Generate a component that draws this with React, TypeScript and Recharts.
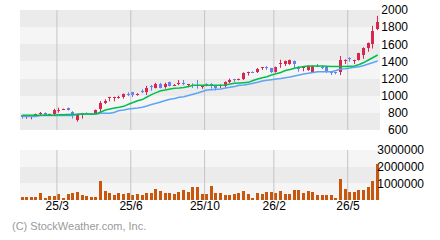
import { Bar, BarChart, CartesianGrid, ComposedChart, Line, ReferenceLine, XAxis, YAxis } from "recharts";

// weekly candles, oldest first (78 bars)
const OPEN = [
  772, 760, 760, 760, 792, 802, 780, 784, 828, 843, 857, 810, 717, 771, 800, 785, 787, 848, 915, 982,
  983, 980, 990, 1020, 1043, 1010, 1060, 1040, 1118, 1090, 1140, 1105, 1156, 1120, 1145, 1150, 1130, 1128, 1130, 1105,
  1135, 1135, 1113, 1120, 1113, 1160, 1195, 1195, 1200, 1270, 1280, 1277, 1325, 1340, 1320, 1277, 1370, 1367, 1367, 1408,
  1340, 1330, 1300, 1280, 1350, 1340, 1335, 1275, 1275, 1280, 1415, 1440, 1410, 1415, 1475, 1557, 1605, 1775,
];
const HIGH = [
  775, 770, 775, 790, 810, 805, 790, 848, 860, 850, 862, 820, 783, 800, 805, 795, 838, 938, 958, 987,
  988, 1000, 1025, 1040, 1045, 1030, 1075, 1115, 1125, 1150, 1150, 1152, 1165, 1135, 1183, 1183, 1138, 1145, 1183, 1112,
  1145, 1145, 1115, 1130, 1168, 1200, 1197, 1202, 1273, 1280, 1285, 1323, 1332, 1345, 1325, 1340, 1420, 1410, 1420, 1410,
  1345, 1338, 1352, 1355, 1370, 1350, 1340, 1278, 1278, 1463, 1425, 1450, 1420, 1500, 1565, 1620, 1815, 1932,
];
const LOW = [
  733, 732, 725, 755, 771, 768, 775, 771, 802, 835, 828, 733, 697, 733, 790, 780, 785, 795, 903, 935,
  935, 965, 965, 995, 985, 1000, 1030, 1008, 1058, 1085, 1085, 1082, 1108, 1115, 1122, 1122, 1098, 1090, 1082, 1080,
  1110, 1082, 1060, 1090, 1098, 1148, 1160, 1180, 1183, 1235, 1270, 1265, 1300, 1300, 1265, 1270, 1325, 1347, 1360, 1320,
  1280, 1285, 1290, 1275, 1335, 1310, 1265, 1240, 1250, 1240, 1370, 1397, 1370, 1410, 1430, 1513, 1550, 1765,
];
const CLOSE = [
  749, 767, 771, 787, 797, 771, 785, 837, 835, 847, 833, 767, 771, 795, 795, 790, 833, 911, 942, 985,
  986, 988, 1020, 1015, 1005, 1018, 1055, 1090, 1110, 1140, 1090, 1140, 1113, 1128, 1150, 1145, 1135, 1122, 1122, 1110,
  1130, 1130, 1090, 1126, 1160, 1183, 1190, 1200, 1265, 1277, 1275, 1312, 1330, 1335, 1277, 1335, 1378, 1402, 1413, 1370,
  1310, 1335, 1347, 1350, 1345, 1335, 1273, 1270, 1270, 1417, 1420, 1430, 1417, 1495, 1557, 1615, 1757, 1865,
];
// volume in thousands of shares
const VOLUME = [
  180, 180, 180, 180, 420, 120, 240, 240, 360, 120, 360, 420, 480, 300, 240, 180, 180, 1140, 540, 420,
  300, 420, 360, 420, 300, 360, 300, 420, 420, 660, 540, 420, 420, 360, 480, 600, 480, 780, 780, 360,
  360, 840, 420, 420, 300, 300, 360, 420, 540, 360, 120, 420, 360, 480, 480, 420, 540, 360, 360, 600,
  600, 420, 540, 480, 300, 300, 300, 300, 120, 1260, 660, 480, 480, 600, 600, 780, 1140, 2160,
];
// moving averages (short = green, long = blue)
const MA_SHORT = [
  772, 772, 772, 772, 772, 772, 772, 772, 778, 779, 780, 780, 781, 787, 787, 787, 787, 810, 833, 845,
  857, 865, 876, 900, 921, 941, 955, 985, 1012, 1036, 1057, 1067, 1078, 1087, 1090, 1096, 1108, 1122, 1122, 1122,
  1122, 1122, 1122, 1122, 1125, 1137, 1145, 1148, 1152, 1156, 1177, 1195, 1209, 1222, 1242, 1256, 1271, 1294, 1306, 1320,
  1332, 1341, 1347, 1347, 1347, 1347, 1345, 1342, 1340, 1340, 1342, 1345, 1347, 1364, 1387, 1417, 1446, 1475,
];
const MA_LONG = [
  758, 758, 758, 758, 769, 769, 769, 769, 769, 769, 769, 769, 787, 787, 787, 787, 787, 795, 795, 795,
  807, 828, 833, 845, 851, 857, 865, 880, 897, 911, 927, 944, 958, 967, 981, 989, 1003, 1017, 1032, 1049,
  1067, 1071, 1075, 1078, 1090, 1098, 1108, 1122, 1125, 1133, 1145, 1156, 1172, 1180, 1187, 1195, 1201, 1210, 1218, 1230,
  1242, 1253, 1262, 1271, 1280, 1280, 1280, 1280, 1294, 1312, 1315, 1323, 1332, 1339, 1352, 1370, 1387, 1405,
];

const TICK_IDX = [8, 24, 40, 55, 71];
const TICK_TEXT = ["25/3", "25/6", "25/10", "26/2", "26/5"];
const PRICE_TICKS = [600, 800, 1000, 1200, 1400, 1600, 1800, 2000];
const VOL_TICKS = [1000000, 2000000, 3000000];

const UP = "#d8264e";
const DOWN = "#6a7ef0";
const GREEN = "#00c04a";
const SKY = "#5aa5f5";
const VOL = "#c8560c";
const DARK = "#ebebeb";
const LIGHT = "#f5f5f5";
const GRID = "#c4c4c4";
const FONT = "'Liberation Sans Narrow', 'Arial Narrow', 'Liberation Sans', Arial, sans-serif";

const data = CLOSE.map((c, i) => ({
  i,
  o: OPEN[i],
  h: HIGH[i],
  l: LOW[i],
  c,
  v: VOLUME[i] * 1000,
  ma1: MA_SHORT[i],
  ma2: MA_LONG[i],
}));

// pixel column for a bar, snapped so the 3px mark sits on whole pixels
const snap = (x: number, width: number) => Math.round(x + width / 2 - 1);

function Candle(props: any) {
  const { x, y, width, height, payload } = props;
  if (!payload) return null;
  const { o, h, l, c } = payload;
  const color = c >= o ? UP : DOWN;
  const top = Math.min(y, y + height);
  const span = Math.abs(height);
  const k = span / (h - l || 1);
  const bodyTop = top + (h - Math.max(o, c)) * k;
  const bodyH = Math.max(1, Math.abs(c - o) * k);
  const cx = snap(x, width);
  return (
    <g>
      <line x1={cx + 0.5} x2={cx + 0.5} y1={top} y2={top + span} stroke={color} strokeWidth={1} />
      <rect x={cx - 1} y={bodyTop} width={3} height={bodyH} fill={color} shapeRendering="crispEdges" />
    </g>
  );
}

function VolBar(props: any) {
  const { x, y, width, height } = props;
  const top = Math.min(y, y + height);
  return (
    <rect
      x={snap(x, width) - 1}
      y={top}
      width={3}
      height={Math.abs(height)}
      fill={VOL}
      shapeRendering="crispEdges"
    />
  );
}

function PriceTick(props: any) {
  const { x, y, payload } = props;
  return (
    <text x={x + 28} y={y} dy="0.36em" textAnchor="end" fontSize={12} fontFamily={FONT} fill="#000">
      {payload.value}
    </text>
  );
}

function VolTick(props: any) {
  const { x, y, payload } = props;
  return (
    <text x={x + 44} y={y} dy="0.36em" textAnchor="end" fontSize={12} fontFamily={FONT} fill="#000">
      {payload.value}
    </text>
  );
}

function DateTick(props: any) {
  const { x, y, payload } = props;
  const k = TICK_IDX.indexOf(payload.value);
  if (k < 0) return null;
  return (
    <text x={x - 2} y={y + 6} dy="0.36em" textAnchor="middle" fontSize={12} fontFamily={FONT} fill="#000">
      {TICK_TEXT[k]}
    </text>
  );
}

export default function App() {
  return (
    <div style={{ position: "absolute", left: 0, top: 0, width: 440, height: 240, background: "#fff" }}>
      <div style={{ position: "absolute", left: 0, top: 0 }}>
        <ComposedChart width={440} height={140} data={data} margin={{ top: 10, right: 0, bottom: 10, left: 20 }}>
          <CartesianGrid vertical={false} stroke="none" horizontalFill={[DARK, LIGHT]} />
          <XAxis dataKey="i" type="category" hide />
          <YAxis
            orientation="right"
            width={60}
            domain={[600, 2000]}
            ticks={PRICE_TICKS}
            interval={0}
            axisLine={false}
            tickLine={false}
            tickSize={0}
            tickMargin={0}
            tick={<PriceTick />}
          />
          {TICK_IDX.map((t) => (
            <ReferenceLine key={t} x={t} position="start" stroke={GRID} />
          ))}
          <Line dataKey="ma2" stroke={SKY} strokeWidth={1.5} dot={false} isAnimationActive={false} />
          <Line dataKey="ma1" stroke={GREEN} strokeWidth={1.5} dot={false} isAnimationActive={false} />
          <Bar dataKey={(d: any) => [d.l, d.h]} barSize={3} shape={<Candle />} isAnimationActive={false} />
        </ComposedChart>
      </div>
      <div style={{ position: "absolute", left: 0, top: 140 }}>
        <BarChart width={440} height={100} data={data} margin={{ top: 10, right: 0, bottom: 0, left: 20 }}>
          <CartesianGrid vertical={false} stroke="none" horizontalFill={[LIGHT, DARK]} />
          <XAxis
            dataKey="i"
            type="category"
            height={40}
            interval={0}
            axisLine={false}
            tickLine={false}
            tickSize={0}
            tickMargin={0}
            tick={<DateTick />}
          />
          <YAxis
            orientation="right"
            width={60}
            domain={[0, 3000000]}
            ticks={VOL_TICKS}
            interval={0}
            axisLine={false}
            tickLine={false}
            tickSize={0}
            tickMargin={0}
            tick={<VolTick />}
          />
          {TICK_IDX.map((t) => (
            <ReferenceLine key={t} x={t} position="start" stroke={GRID} />
          ))}
          <Bar dataKey="v" barSize={3} shape={<VolBar />} isAnimationActive={false} />
        </BarChart>
      </div>
      <div
        style={{
          position: "absolute",
          left: 12,
          top: 221,
          fontFamily: "'Liberation Sans', Arial, sans-serif",
          fontSize: 11,
          lineHeight: "11px",
          color: "#9a9a9a",
          whiteSpace: "nowrap",
        }}
      >
        (C) StockWeather.com, Inc.
      </div>
    </div>
  );
}
